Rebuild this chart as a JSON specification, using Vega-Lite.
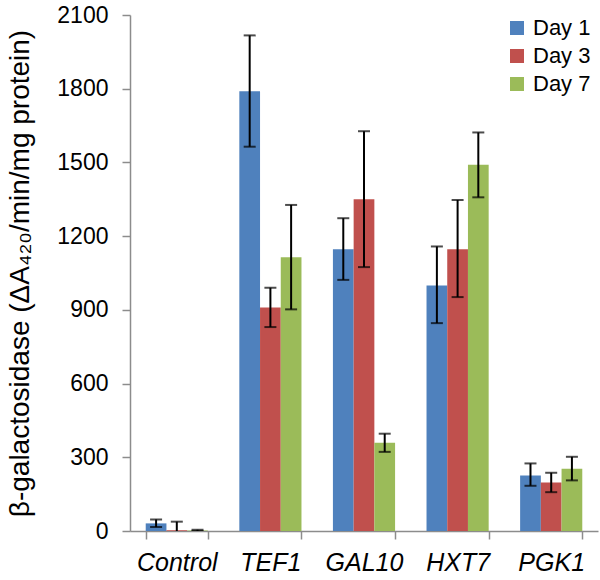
{
  "$schema": "https://vega.github.io/schema/vega-lite/v6.json",
  "width": 468,
  "height": 516,
  "autosize": {"type": "none"},
  "padding": {"left": 130, "top": 15, "right": 2, "bottom": 49},
  "background": "white",
  "config": {
    "view": {"stroke": null},
    "font": "Liberation Sans",
    "axis": {"grid": false, "domainColor": "#8c8c8c", "tickColor": "#8c8c8c", "domainWidth": 1.5, "tickWidth": 1.5, "labelColor": "black", "titleColor": "black", "labelFont": "Liberation Sans", "titleFont": "Liberation Sans"}
  },
  "data": {
    "values": [
      {"gene": "Control", "day": "Day 1", "value": 31, "lo": 16, "hi": 47},
      {"gene": "Control", "day": "Day 3", "value": 3, "lo": -30, "hi": 38},
      {"gene": "Control", "day": "Day 7", "value": 2, "lo": 0, "hi": 5},
      {"gene": "TEF1", "day": "Day 1", "value": 1790, "lo": 1564, "hi": 2017},
      {"gene": "TEF1", "day": "Day 3", "value": 910, "lo": 830, "hi": 990},
      {"gene": "TEF1", "day": "Day 7", "value": 1114, "lo": 902, "hi": 1327},
      {"gene": "GAL10", "day": "Day 1", "value": 1147, "lo": 1022, "hi": 1273},
      {"gene": "GAL10", "day": "Day 3", "value": 1350, "lo": 1074, "hi": 1627},
      {"gene": "GAL10", "day": "Day 7", "value": 359, "lo": 322, "hi": 396},
      {"gene": "HXT7", "day": "Day 1", "value": 999, "lo": 846, "hi": 1158},
      {"gene": "HXT7", "day": "Day 3", "value": 1147, "lo": 952, "hi": 1347},
      {"gene": "HXT7", "day": "Day 7", "value": 1491, "lo": 1358, "hi": 1622},
      {"gene": "PGK1", "day": "Day 1", "value": 226, "lo": 184, "hi": 275},
      {"gene": "PGK1", "day": "Day 3", "value": 197, "lo": 158, "hi": 237},
      {"gene": "PGK1", "day": "Day 7", "value": 253, "lo": 206, "hi": 302}
    ]
  },
  "encoding": {
    "x": {
      "field": "gene", "type": "nominal", "sort": null,
      "scale": {"paddingInner": 0.336, "paddingOuter": 0.168},
      "axis": {"title": null, "labelAngle": 0, "labelFontSize": 25, "labelFontStyle": "italic", "tickBand": "extent", "tickSize": 8, "labelPadding": 11}
    },
    "xOffset": {"field": "day", "type": "nominal", "sort": ["Day 1", "Day 3", "Day 7"], "scale": {"paddingInner": 0, "paddingOuter": 0}}
  },
  "layer": [
    {
      "mark": {"type": "bar", "clip": true},
      "encoding": {
        "y": {
          "field": "value", "type": "quantitative",
          "scale": {"domain": [0, 2100], "nice": false},
          "axis": {"values": [0, 300, 600, 900, 1200, 1500, 1800, 2100], "format": "d", "labelFontSize": 23, "tickSize": 8, "labelPadding": 14, "title": "β-galactosidase (ΔA₄₂₀/min/mg protein)", "titleFontSize": 28, "titleFontWeight": "normal", "titlePadding": 22}
        },
        "color": {
          "field": "day", "type": "nominal",
          "scale": {"domain": ["Day 1", "Day 3", "Day 7"], "range": ["#4F81BD", "#C0504D", "#9BBB59"]},
          "legend": {"title": null, "orient": "none", "legendX": 376, "legendY": 2, "symbolType": "square", "symbolSize": 196, "symbolStrokeWidth": 0, "labelFontSize": 22, "rowPadding": 6, "labelOffset": 5}
        }
      }
    },
    {
      "mark": {"type": "rule", "color": "black", "strokeWidth": 2, "clip": true},
      "encoding": {
        "y": {"field": "lo", "type": "quantitative"},
        "y2": {"field": "hi"}
      }
    },
    {
      "mark": {"type": "tick", "color": "black", "thickness": 2, "size": 12, "clip": true},
      "encoding": {"y": {"field": "lo", "type": "quantitative"}}
    },
    {
      "mark": {"type": "tick", "color": "black", "thickness": 2, "size": 12, "clip": true},
      "encoding": {"y": {"field": "hi", "type": "quantitative"}}
    }
  ]
}
